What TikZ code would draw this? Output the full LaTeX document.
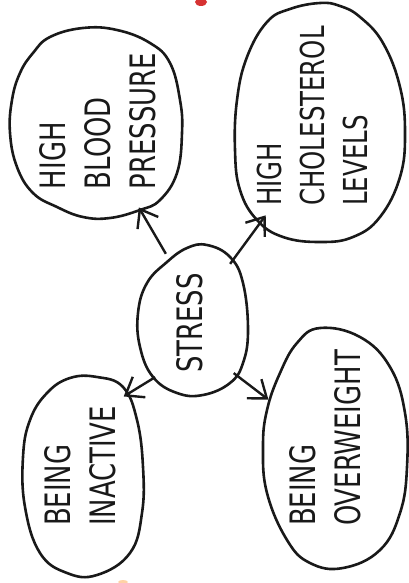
\documentclass[tikz,border=0pt]{standalone}
\usepackage{fontspec}
\newfontfamily\hand[FakeStretch=0.74]{DejaVu Sans}
\usetikzlibrary{shapes.geometric,arrows.meta}
\begin{document}
\begin{tikzpicture}[x=1pt,y=-1pt,
  anchorblob/.style={ellipse,draw=none,inner sep=0pt},
  outline/.style={draw=black!90,line width=2.6pt,line join=round},
  txt/.style={rotate=90,align=left,inner sep=0pt,text=black!90,
    font=\hand\fontsize{35}{45}\selectfont},
  arr/.style={line width=2.4pt,draw=black!90,
    -{Straight Barb[length=16pt,width=24pt,line width=2.4pt]}}]
\useasboundingbox (0,0) rectangle (409,583);
% anchor shapes (invisible) for connectors
\node[anchorblob,minimum width=170pt,minimum height=192pt] (hbp) at (95,125) {};
\node[anchorblob,minimum width=173pt,minimum height=236pt] (hcl) at (318,121) {};
\node[anchorblob,minimum width=110pt,minimum height=154pt] (s) at (193,321) {};
\node[anchorblob,minimum width=121pt,minimum height=206pt] (ina) at (83,473) {};
\node[anchorblob,minimum width=145pt,minimum height=240pt] (ovw) at (335,448) {};
% hand-drawn outlines
\draw[outline] plot[smooth cycle,tension=0.7] coordinates {
  (50,37) (83,28) (117,30) (150,43) (170,63) (180,100) (182,133) (177,173)
  (160,200) (140,210) (110,218) (83,217) (57,207) (33,193) (17,167)
  (10,133) (12,100) (20,73) (33,53)};
\draw[outline] plot[smooth cycle,tension=0.7] coordinates {
  (320,3) (290,9) (267,22) (247,57) (237,100) (235,150) (240,190) (257,220)
  (283,237) (320,242) (353,237) (380,217) (400,177) (405,133) (400,87)
  (383,43) (360,17) (340,6)};
\draw[outline] plot[smooth cycle,tension=0.7] coordinates {
  (207,245) (230,257) (243,283) (248,330) (243,363) (230,383) (203,395)
  (177,393) (153,377) (140,347) (138,313) (147,283) (167,262) (187,248)};
\draw[outline] plot[smooth cycle,tension=0.7] coordinates {
  (97,377) (123,387) (137,420) (143,467) (142,513) (130,553) (97,575)
  (67,573) (40,553) (25,507) (23,457) (30,420) (47,393) (70,378)};
\draw[outline] plot[smooth cycle,tension=0.7] coordinates {
  (320,328) (360,337) (390,367) (405,413) (407,467) (400,513) (380,550)
  (343,568) (310,563) (287,540) (267,493) (263,447) (267,410) (280,373)
  (297,343)};
% texts
\node[txt] (thbp) at (98,121) {HIGH\\BLOOD\\PRESSURE};
\node[txt,font=\hand\fontsize{33}{43}\selectfont] (thcl) at (312,116) {HIGH\\CHOLESTEROL\\LEVELS};
\node[txt] (ts) at (190,323) {STRESS};
\node[txt] (tina) at (80,466) {BEING\\INACTIVE};
\node[txt] (tovw) at (325,438) {BEING\\OVERWEIGHT};
% connectors
\draw[arr] (s.112) -- (hbp.-62);
\draw[arr] (s.57) -- (hcl.241);
\draw[arr] (s.236) -- (ina.62);
\draw[arr] (s.-52) -- (ovw.144);
% stray marks
\fill[red!80!black,opacity=0.8] (201,2) ellipse (6pt and 4pt);
\fill[orange!70,opacity=0.5] (123,582) ellipse (5pt and 2pt);
\end{tikzpicture}
\end{document}
